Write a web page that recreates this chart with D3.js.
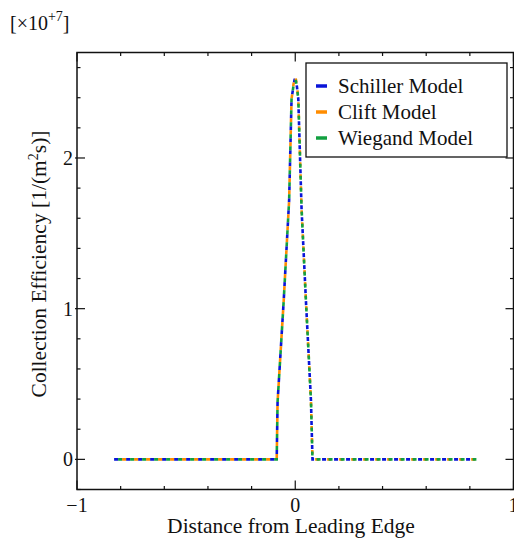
<!DOCTYPE html>
<html>
<head>
<meta charset="utf-8">
<script src="https://cdn.jsdelivr.net/npm/d3@7"></script>
<style>
  body { margin: 0; background: #fff; }
  text { font-family: "Liberation Serif", "DejaVu Serif", serif; fill: #111; }
</style>
</head>
<body>
<div id="chart"></div>
<script>
// Data (y in units of 1e7)
var distance = [-0.83, -0.085, -0.081, -0.053, -0.028, -0.017, -0.008, -0.003, 0, 0.003, 0.008, 0.014, 0.029, 0.049, 0.072, 0.079, 0.83];
var schiller = [0, 0, 0.38, 1.05, 1.72, 2.39, 2.48, 2.52, 2.53, 2.52, 2.47, 2.39, 1.66, 1.05, 0.39, 0, 0];
var clift    = [0, 0, 0.38, 1.05, 1.72, 2.39, 2.49, 2.53, 2.54, 2.52, 2.48, 2.39, 1.66, 1.05, 0.39, 0, 0];
var wiegand  = [0, 0, 0.38, 1.05, 1.72, 2.39, 2.48, 2.52, 2.52, 2.51, 2.47, 2.39, 1.66, 1.05, 0.39, 0, 0];
var seriesNames = ["Schiller Model", "Clift Model", "Wiegand Model"];
var seriesColors = ["#0a14d8", "#ff8c00", "#12a040"];
var xTicks = [-1, 0, 1];
var yTicks = [0, 1, 2];

var width = 514, height = 542;
var margin = {left: 77, top: 52.5, right: 0.5, bottom: 52.5};

var svg = d3.select("#chart").append("svg")
  .attr("width", width)
  .attr("height", height);

var x = d3.scaleLinear().domain([-1, 1]).range([margin.left, width - margin.right]);
var y = d3.scaleLinear().domain([-0.2, 2.7]).range([height - margin.bottom, margin.top]);

var x0 = x.range()[0], x1 = x.range()[1], y0 = y.range()[0], y1 = y.range()[1];

// frame
svg.append("rect")
  .attr("x", x0).attr("y", y1)
  .attr("width", x1 - x0).attr("height", y0 - y1)
  .attr("fill", "none").attr("stroke", "#111").attr("stroke-width", 1.5);

// ticks (all inward)
var xMinor = d3.range(-1, 1.001, 0.2);
var yMinor = d3.range(-0.2, 2.71, 0.2);
var ticks = svg.append("g").attr("stroke", "#111").attr("stroke-width", 1.2);
xMinor.forEach(function(v){
  var major = xTicks.some(function(t){ return Math.abs(t - v) < 1e-6; });
  var len = major ? 9 : 3.5;
  ticks.append("line").attr("x1", x(v)).attr("x2", x(v)).attr("y1", y0).attr("y2", y0 - len);
  ticks.append("line").attr("x1", x(v)).attr("x2", x(v)).attr("y1", y1).attr("y2", y1 + len);
});
yMinor.forEach(function(v){
  var major = yTicks.some(function(t){ return Math.abs(t - v) < 1e-6; });
  var len = major ? 8 : 3.5;
  ticks.append("line").attr("x1", x0 - (major ? 2 : 0)).attr("x2", x0 + len).attr("y1", y(v)).attr("y2", y(v));
  ticks.append("line").attr("x1", x1).attr("x2", x1 - len).attr("y1", y(v)).attr("y2", y(v));
});

// tick labels
svg.selectAll(".xlab").data(xTicks).enter().append("text")
  .attr("x", function(d){ return x(d); })
  .attr("y", 512)
  .attr("text-anchor", "middle")
  .style("font-size", "20px")
  .text(function(d){ return d < 0 ? "\u2212" + Math.abs(d) : d; });

svg.selectAll(".ylab").data(yTicks).enter().append("text")
  .attr("x", 73)
  .attr("y", function(d){ return y(d) + 7; })
  .attr("text-anchor", "end")
  .style("font-size", "20px")
  .text(function(d){ return d; });

// multiplier
var mult = svg.append("text").attr("x", 10).attr("y", 30).style("font-size", "20px");
mult.append("tspan").text("[\u00d710");
mult.append("tspan").attr("dy", -9).style("font-size", "14px").text("+7");
mult.append("tspan").attr("dy", 9).text("]");

// axis titles
svg.append("text")
  .attr("x", 291).attr("y", 533)
  .attr("text-anchor", "middle")
  .style("font-size", "21.5px")
  .text("Distance from Leading Edge");

var yt = svg.append("text")
  .attr("transform", "translate(46,264) rotate(-90)")
  .attr("text-anchor", "middle")
  .style("font-size", "21.5px");
yt.append("tspan").text("Collection Efficiency [1/(m");
yt.append("tspan").attr("dy", -8).style("font-size", "14px").text("2");
yt.append("tspan").attr("dy", 8).text("s)]");

// lines
var line = d3.line()
  .x(function(d){ return x(d[0]); })
  .y(function(d){ return y(d[1]); });

var seriesData = [schiller, clift, wiegand];
var dashOffsets = [0, 4, 8];
seriesData.forEach(function(vals, i){
  svg.append("path")
    .datum(distance.map(function(d, j){ return [d, vals[j]]; }))
    .attr("d", line)
    .attr("fill", "none")
    .attr("stroke", seriesColors[i])
    .attr("stroke-width", 2.6)
    .attr("stroke-dasharray", "4,8")
    .attr("stroke-dashoffset", dashOffsets[i]);
});

// legend
var legend = svg.append("g");
legend.append("rect")
  .attr("x", 306).attr("y", 63)
  .attr("width", 201).attr("height", 94)
  .attr("fill", "#fff").attr("stroke", "#111").attr("stroke-width", 1.3);
seriesNames.forEach(function(name, i){
  var ly = 86 + i * 26;
  legend.append("line")
    .attr("x1", 316).attr("x2", 327)
    .attr("y1", ly).attr("y2", ly)
    .attr("stroke", seriesColors[i]).attr("stroke-width", 3.5);
  legend.append("text")
    .attr("x", 338).attr("y", ly + 7)
    .style("font-size", "21px")
    .text(name);
});
</script>
</body>
</html>
